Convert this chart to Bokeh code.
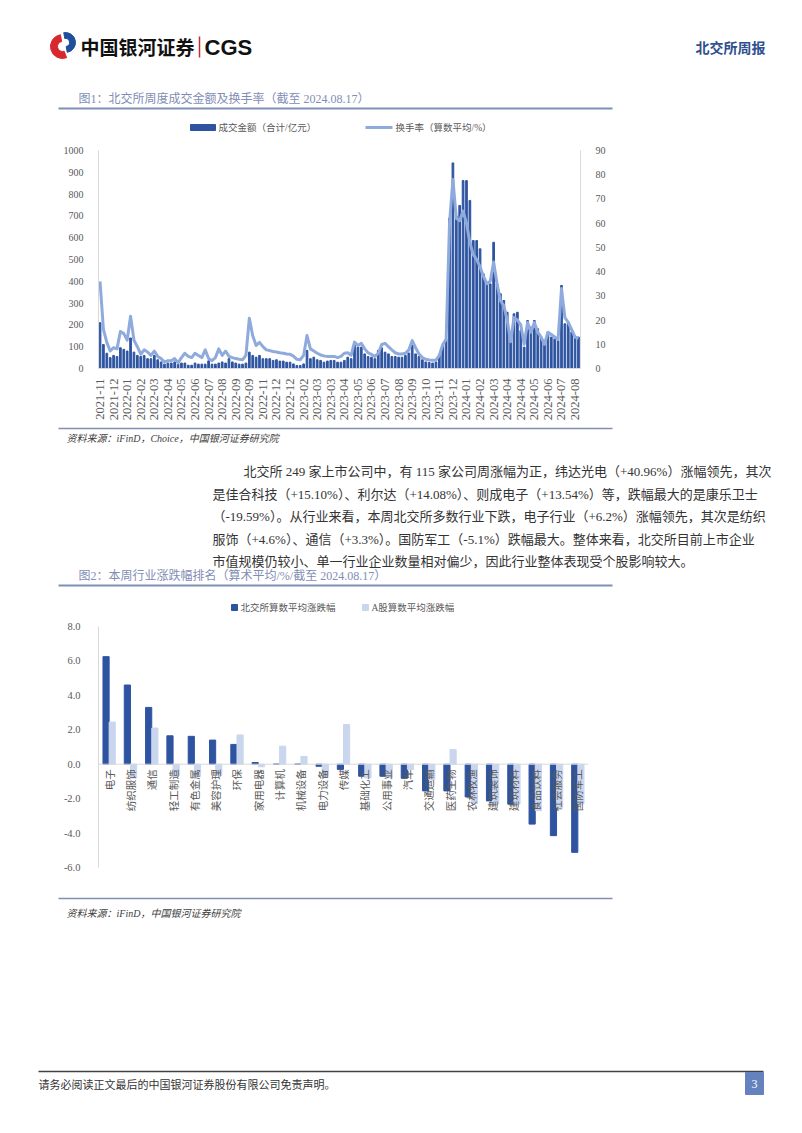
import math
from bokeh.plotting import figure
from bokeh.models import Range1d, LinearAxis, FixedTicker, Span, FactorRange, PrintfTickFormatter
from bokeh.layouts import column
from bokeh.embed import file_html
from bokeh.resources import INLINE
from bokeh.core.properties import value
from bokeh.transform import dodge

# ---------------- data ----------------
week_labels = ["2021-11", "2021-12", "2022-01", "2022-02", "2022-03", "2022-04", "2022-05", "2022-06",
               "2022-07", "2022-08", "2022-09", "2022-09", "2022-11", "2022-12", "2022-12", "2023-02",
               "2023-03", "2023-03", "2023-04", "2023-05", "2023-06", "2023-07", "2023-08", "2023-09",
               "2023-10", "2023-11", "2023-12", "2024-01", "2024-02", "2024-03", "2024-04", "2024-04",
               "2024-05", "2024-06", "2024-07", "2024-08"]

amount = [210, 110, 70, 50, 60, 55, 95, 88, 80, 140, 75, 60, 55, 60, 45, 45, 60, 40, 30, 20,
          25, 25, 30, 20, 25, 25, 15, 15, 25, 20, 20, 20, 35, 20, 20, 25, 30, 25, 45, 30,
          25, 20, 20, 25, 75, 60,
          52, 60, 45, 45, 45, 37, 40, 34, 34, 29, 29, 21, 14, 14, 21, 83, 45, 52, 40, 37,
          29, 34, 37, 37, 29, 29, 37, 52, 45, 121, 98, 98, 67, 55, 52, 45, 83, 95, 75, 67,
          55, 55, 52, 52, 60, 71, 106, 67, 55,
          40, 30, 28, 25, 30, 65, 105, 135, 690, 943, 700, 748, 862, 862, 771, 587, 587, 549, 434, 388,
          388, 579, 388, 343, 312, 258, 151, 251, 258, 174, 98, 220, 190, 220, 182, 144, 113, 167, 144, 136,
          128, 381, 205, 213, 167, 144, 144]

turnover = [36, 16.2, 10.8, 7.2, 8.6, 8.1, 15.3, 14.4, 11.7, 21.6, 11.7, 9, 5.9, 7.7, 6.8, 5.4, 7.2, 5, 4.1, 2.7,
            3.2, 3.2, 4.1, 2.3, 4.5, 6.3, 5, 4.5, 6.3, 5.4, 4.5, 7.7, 4.1, 3.2, 4.5, 8.1, 5.4, 7.2, 5, 4.5,
            4.1, 3.8, 3.6, 5.4, 20.7, 13.5,
            9.5, 10.8, 9, 7.7, 7.4, 7, 6.8, 6.5, 6.3, 6, 5.9, 5.1, 3.8, 3.6, 5.4, 13.6, 8.1, 7.2, 6.3, 5.6,
            5.2, 5, 5, 5, 4.5, 5, 6.3, 6.5, 5.4, 10.9, 9.5, 10.4, 8.1, 6.5, 5.8, 5, 6.3, 9.9, 10.4, 9,
            7.7, 6.5, 6, 6, 6.3, 7.7, 11.5, 8.6, 6,
            4.5, 3.8, 3.5, 3.4, 3.5, 5.4, 9.9, 12, 60, 78, 62, 61, 65, 60, 52, 47, 45, 42, 38, 35,
            36, 44, 35, 28, 26, 20, 11, 21, 20, 18, 10, 19, 15, 19, 15, 13, 10, 15, 14, 13,
            12, 33, 21, 19, 16, 13, 12.5]

industries = ["电子", "纺织服饰", "通信", "轻工制造", "有色金属", "美容护理", "环保", "家用电器", "计算机",
              "机械设备", "电力设备", "传媒", "基础化工", "公用事业", "汽车", "交通运输", "医药生物",
              "农林牧渔", "建筑装饰", "建筑材料", "食品饮料", "社会服务", "国防军工"]
bse_chg = [6.25, 4.6, 3.3, 1.65, 1.62, 1.4, 1.15, 0.1, 0.0, 0.0, -0.12, -0.3, -0.7, -0.7, -0.82,
           -1.55, -1.55, -1.9, -2.13, -2.32, -3.48, -4.15, -5.12]
a_chg = [2.45, -0.8, 2.1, -0.7, -0.7, -0.65, 1.7, -0.15, 1.05, 0.45, -0.7, 2.3, -0.8, -0.8, -0.3,
         -0.9, 0.85, -2.3, -2.3, -2.3, -2.7, -2.5, -2.3]

y1_ticks = list(range(0, 1001, 100))
y2_ticks = list(range(0, 91, 10))
c2_ticks = [-6, -4, -2, 0, 2, 4, 6, 8]

para = [
    "北交所 249 家上市公司中，有 115 家公司周涨幅为正，纬达光电（+40.96%）涨幅领先，其次",
    "是佳合科技（+15.10%）、利尔达（+14.08%）、则成电子（+13.54%）等，跌幅最大的是康乐卫士",
    "（-19.59%）。从行业来看，本周北交所多数行业下跌，电子行业（+6.2%）涨幅领先，其次是纺织",
    "服饰（+4.6%）、通信（+3.3%）。国防军工（-5.1%）跌幅最大。整体来看，北交所目前上市企业",
    "市值规模仍较小、单一行业企业数量相对偏少，因此行业整体表现受个股影响较大。",
]

# ---------------- style ----------------
W = 800
SERIF = "'Liberation Serif', 'Noto Sans CJK SC'"
CJK = "'Noto Sans CJK SC'"
BLUE = "#2E54A1"
LBLUE = "#8FAADC"
PALE = "#C9D6EE"
TITLE_C = "#7F8DB5"
RULE_C = "#7F8FB5"
GRAY = "#595959"


def canvas(h):
    p = figure(width=W, height=h, x_range=Range1d(0, W), y_range=Range1d(h, 0),
               output_backend="svg", toolbar_location=None, min_border=0,
               x_axis_type=None, y_axis_type=None, frame_align=False)
    p.grid.visible = False
    p.outline_line_color = None
    return p


def txt(p, x, y, s, size, color="#333333", font=SERIF, align="left", style="normal", baseline="middle"):
    p.text(x=[x], y=[y], text=[s], text_font=value(font), text_font_size=size, text_color=color,
           text_align=align, text_baseline=baseline, text_font_style=style)


def hline(p, x0, x1, y, color, w):
    p.segment(x0=[x0], y0=[y], x1=[x1], y1=[y], line_color=color, line_width=w)


# ---------------- header (page y 0..142) ----------------
ph = canvas(142)
ph.annular_wedge(x=[62], y=[46], inner_radius=5, outer_radius=12, start_angle=math.radians(100),
                 end_angle=math.radians(290), color="#D7282F")
ph.annular_wedge(x=[65], y=[42], inner_radius=4, outer_radius=10, start_angle=math.radians(-80),
                 end_angle=math.radians(100), color="#1F4E9C")
txt(ph, 80, 46, "中国银河证券", "19px", "#111111", CJK, style="bold")
ph.segment(x0=[199], y0=[36], x1=[199], y1=[57], line_color="#C03030", line_width=1.5)
txt(ph, 204, 47, "CGS", "22px", "#111111", "Liberation Sans", style="bold")
txt(ph, 765, 46, "北交所周报", "14px", "#2F4F8F", CJK, align="right", style="bold")
txt(ph, 78, 98, "图1：北交所周度成交金额及换手率（截至 2024.08.17）", "12px", TITLE_C)
hline(ph, 58, 612, 108, RULE_C, 2)
ph.rect(x=[202.5], y=[127], width=25, height=6, color=BLUE)
txt(ph, 218, 127, "成交金额（合计/亿元）", "9.5px", GRAY)
hline(ph, 365, 392, 127, LBLUE, 3)
txt(ph, 395, 127, "换手率（算数平均/%）", "9.5px", GRAY)

# ---------------- chart 1 (page y 142..425) ----------------
idx = list(range(len(amount)))
p1 = figure(width=W, height=283, x_range=Range1d(-0.45, 141.6), y_range=Range1d(0, 1000),
            output_backend="svg", toolbar_location=None, frame_align=False,
            min_border_left=98, min_border_right=W - 580, min_border_top=8, min_border_bottom=57)
p1.extra_y_ranges = {"turn": Range1d(0, 90)}
p1.vbar(x=idx, top=amount, width=0.5, color=BLUE)
p1.line(x=idx, y=turnover, y_range_name="turn", line_color=LBLUE, line_width=3, line_join="round")
ax_r = LinearAxis(y_range_name="turn", ticker=FixedTicker(ticks=y2_ticks))
p1.add_layout(ax_r, "right")
p1.yaxis[0].ticker = FixedTicker(ticks=y1_ticks)
p1.xaxis.ticker = FixedTicker(ticks=[4 * i for i in range(len(week_labels))])
p1.xaxis.major_label_overrides = {4 * i: s for i, s in enumerate(week_labels)}
p1.xaxis.major_label_orientation = math.pi / 2
p1.xaxis.major_label_standoff = 4
for ax in p1.axis:
    ax.axis_line_color = "#D9D9D9"
    ax.major_tick_line_color = None
    ax.minor_tick_line_color = None
    ax.major_label_text_color = GRAY
    ax.major_label_text_font = SERIF
    ax.major_label_text_font_size = "10px"
p1.xaxis.major_label_text_font_size = "12.5px"
p1.yaxis.major_label_standoff = 9
p1.grid.visible = False
p1.outline_line_color = None

# ---------------- middle text (page y 425..620) ----------------
pm = canvas(195)
hline(pm, 58, 612, 3, RULE_C, 1.5)
txt(pm, 66, 13, "资料来源：iFinD，Choice，中国银河证券研究院", "10px", "#404040", style="italic")
for i, line in enumerate(para):
    txt(pm, 243 if i == 0 else 212, 46 + i * 22.6, line, "13px", "#333333")
txt(pm, 78, 150, "图2：本周行业涨跌幅排名（算术平均/%/截至 2024.08.17）", "12px", TITLE_C)
hline(pm, 58, 612, 160, RULE_C, 2)
pm.rect(x=[234], y=[182], width=6, height=6, color=BLUE)
txt(pm, 240, 182, "北交所算数平均涨跌幅", "9.5px", GRAY)
pm.rect(x=[365], y=[182], width=6, height=6, color=PALE)
txt(pm, 371, 182, "A股算数平均涨跌幅", "9.5px", GRAY)

# ---------------- chart 2 (page y 620..893) ----------------
p2 = figure(width=W, height=273, x_range=FactorRange(*industries, range_padding=0),
            y_range=Range1d(-6, 8), output_backend="svg", toolbar_location=None, frame_align=False,
            min_border_left=98, min_border_right=W - 588, min_border_top=6, min_border_bottom=26)
src = dict(cat=industries, bse=bse_chg, a=a_chg)
p2.vbar(x=dodge("cat", -0.145, range=p2.x_range), top="bse", width=0.29, color=BLUE, source=src)
p2.vbar(x=dodge("cat", 0.145, range=p2.x_range), top="a", width=0.29, color=PALE, source=src)
p2.add_layout(Span(location=0, dimension="width", line_color="#D9D9D9", line_width=1))
p2.text(x=industries, y=[0] * len(industries), text=industries, angle=math.pi / 2, y_offset=5,
        text_align="right", text_baseline="middle", text_font=value(CJK), text_font_size="10.5px",
        text_color=GRAY)
p2.xaxis.visible = False
p2.yaxis.ticker = FixedTicker(ticks=c2_ticks)
p2.yaxis.formatter = PrintfTickFormatter(format="%.1f")
p2.yaxis.axis_line_color = "#D9D9D9"
p2.yaxis.major_tick_line_color = None
p2.yaxis.minor_tick_line_color = None
p2.yaxis.major_label_text_color = GRAY
p2.yaxis.major_label_text_font = SERIF
p2.yaxis.major_label_text_font_size = "10.5px"
p2.yaxis.major_label_standoff = 12
p2.grid.visible = False
p2.outline_line_color = None

# ---------------- bottom (page y 893..1117) ----------------
pb = canvas(224)
hline(pb, 58, 612, 5, RULE_C, 1.5)
txt(pb, 66, 20, "资料来源：iFinD，中国银河证券研究院", "10px", "#404040", style="italic")
hline(pb, 38, 763, 178, "#404040", 1.5)
txt(pb, 38, 191, "请务必阅读正文最后的中国银河证券股份有限公司免责声明。", "11px", "#333333")
pb.quad(left=[745], right=[763], top=[179], bottom=[201], color="#6482BE")
txt(pb, 754, 190, "3", "12px", "#FFFFFF", align="center")

page = column(ph, p1, pm, p2, pb, spacing=0)
open("out.html", "w").write(file_html(page, INLINE))
